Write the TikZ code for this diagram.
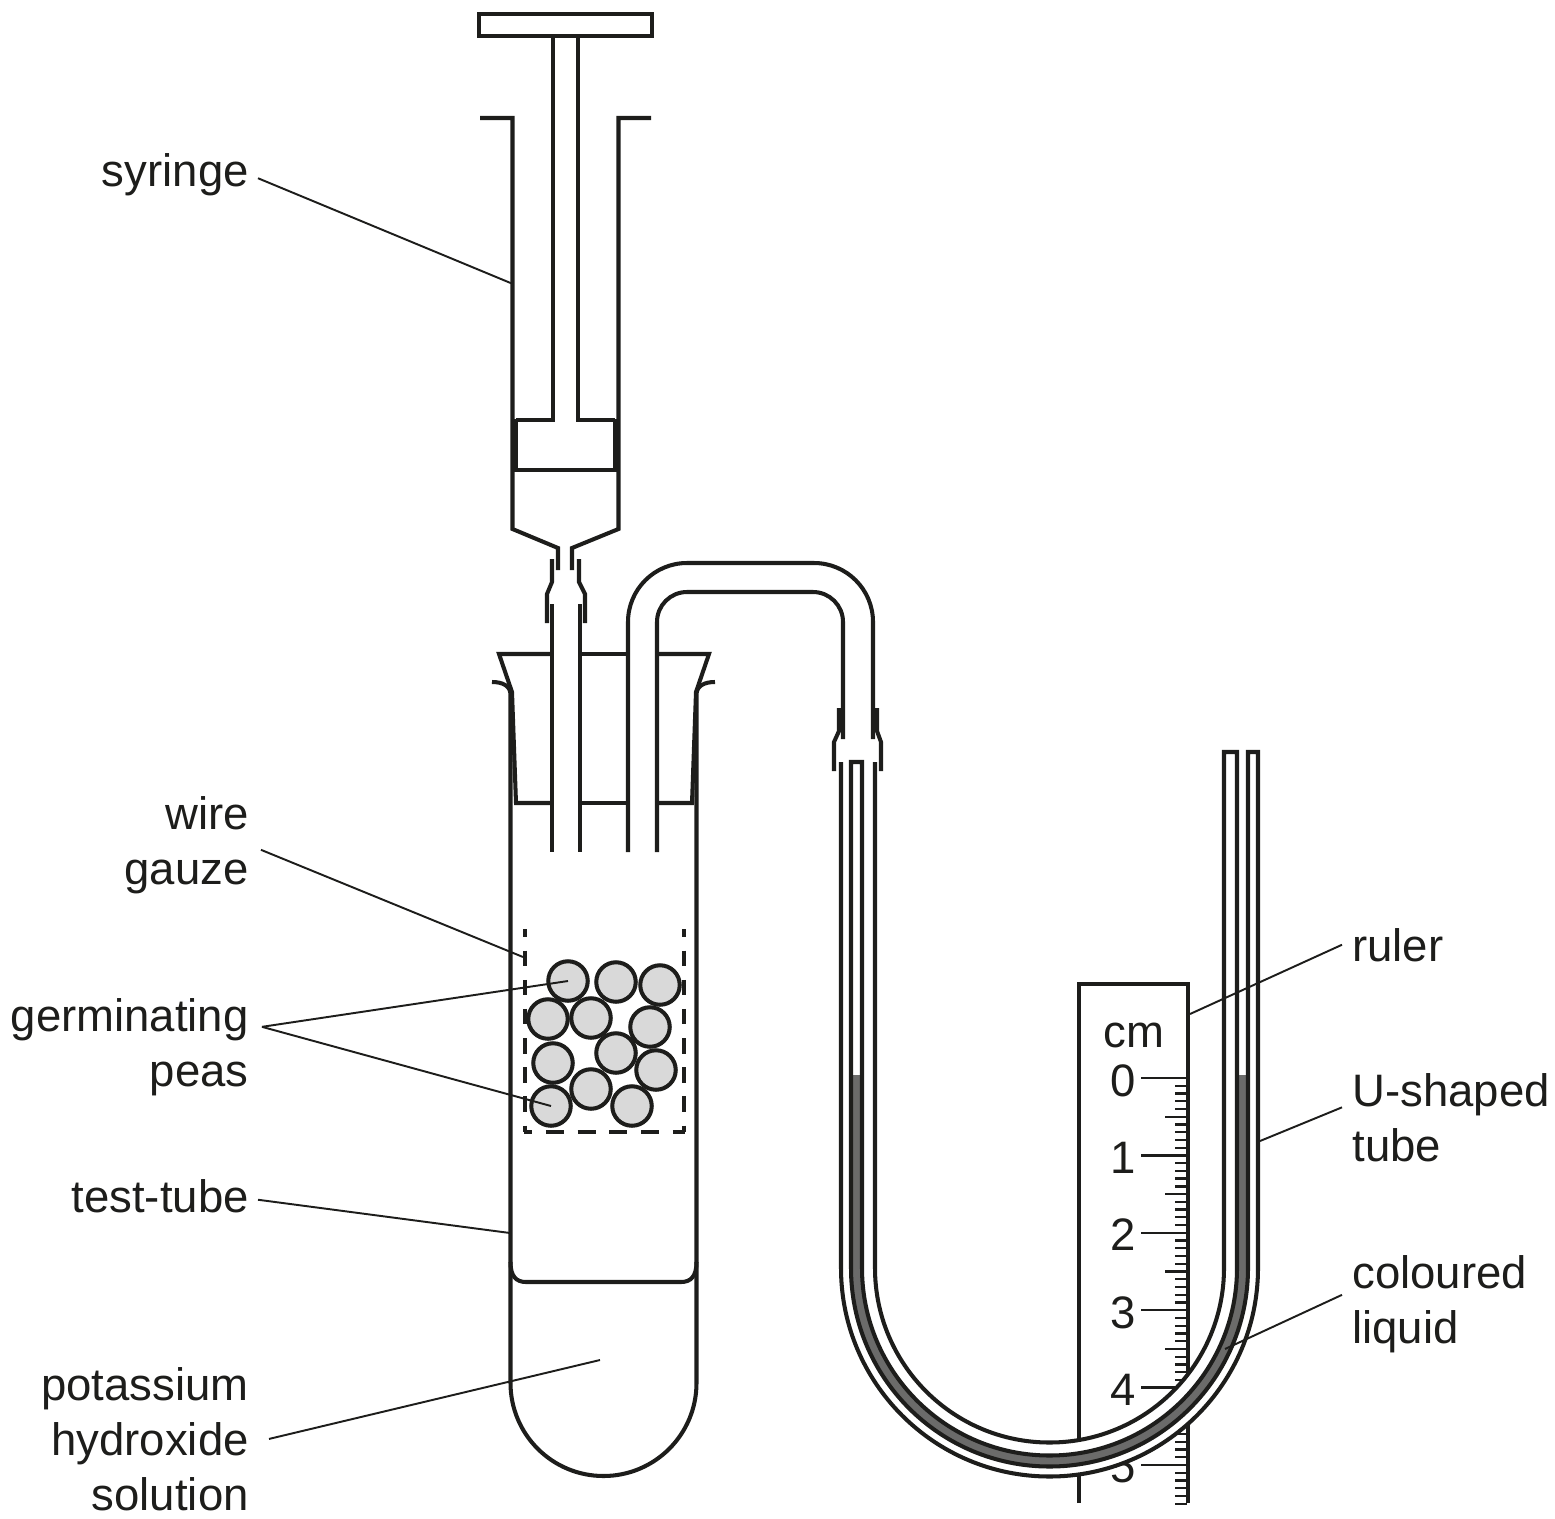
\documentclass[tikz,border=0pt]{standalone}
\usepackage{fontspec}
\setmainfont{Liberation Sans}
\usepackage{tikz}
\usetikzlibrary{calc}
\definecolor{ink}{HTML}{1D1D1B}
\definecolor{peagrey}{HTML}{D9D9D9}
\definecolor{liquidgrey}{HTML}{6B6B6A}

\begin{document}
\begin{tikzpicture}[
  x=0.02cm, y=-0.02cm,
  glass/.style={draw=ink, line width=2.3pt},
  leader/.style={draw=ink, line width=1.1pt},
  tick/.style={draw=ink, line width=1.3pt},
  gauzeside/.style={draw=ink, line width=2.3pt, dash pattern=on 8.8pt off 7.8pt, dash phase=4.3pt},
  gauzebase/.style={draw=ink, line width=2.3pt, dash pattern=on 10.2pt off 7.9pt, dash phase=5.7pt},
  pea/.style={circle, draw=ink, line width=2.3pt, fill=peagrey, minimum size=0.79cm, inner sep=0pt},
  lefttext/.style={anchor=base east, align=right, inner sep=0pt, text=ink, font=\fontsize{25.9}{31.2}\selectfont},
  righttext/.style={anchor=base west, align=left, inner sep=0pt, text=ink, font=\fontsize{25.9}{31.2}\selectfont},
  scaletext/.style={anchor=base, inner sep=0pt, text=ink, font=\fontsize{25.9}{31.2}\selectfont}
]
\useasboundingbox (0,0) rectangle (1555,1518);

% Syringe
\draw[glass] (479,14) rectangle (652,36);
\draw[glass] (553,36) -- (553,420) -- (516,420);
\draw[glass] (578,36) -- (578,420) -- (615,420);
\draw[glass] (480,118) -- (512.5,118) -- (512.5,529) -- (558,548) -- (558,570);
\draw[glass] (651,118) -- (618.5,118) -- (618.5,529) -- (572,548) -- (572,570);
\draw[glass] (516,419) -- (516,471);
\draw[glass] (615,419) -- (615,471);
\draw[glass] (514,470) -- (617,470);

% Rubber joint under the syringe
\draw[glass] (552,559) -- (552,582) -- (547,594) -- (547,623);
\draw[glass] (579,559) -- (579,582) -- (585,594) -- (585,623);

% Test-tube
\draw[glass] (492,682) .. controls (503,682) and (510,686) .. (510.5,694) -- (510.5,1383)
  arc[start angle=180, end angle=0, radius=93] -- (696.5,694)
  .. controls (697,686) and (704,682) .. (715,682);
\draw[glass] (510.5,1262) .. controls (510.5,1276) and (516,1282) .. (526,1282) -- (681,1282)
  .. controls (691,1282) and (696.5,1276) .. (696.5,1262);

% Bung
\draw[glass] (552,654) -- (499,654) -- (512,692) -- (516,803) -- (552,803);
\draw[glass] (580,654) -- (628,654);
\draw[glass] (580,803) -- (628,803);
\draw[glass] (657,654) -- (709,654) -- (696,692) -- (692,803) -- (657,803);

% Glass tubes through the bung
\draw[glass] (552,604) -- (552,852);
\draw[glass] (580,604) -- (580,852);
\draw[glass] (628,852) -- (628,622) arc[start angle=180, end angle=270, radius=59] -- (814,563)
  arc[start angle=270, end angle=360, radius=59] -- (873,739);
\draw[glass] (657,852) -- (657,622) arc[start angle=180, end angle=270, radius=30] -- (813,592)
  arc[start angle=270, end angle=360, radius=30] -- (843,739);

% Rubber joint above the U-shaped tube
\draw[glass] (839,708) -- (839,731) -- (834,742) -- (834,771);
\draw[glass] (877,708) -- (877,731) -- (881,742) -- (881,771);

% Wire gauze and peas
\draw[gauzeside] (525,929) -- (525,1132);
\draw[gauzeside] (684,929) -- (684,1132);
\draw[gauzebase] (524,1132) -- (685,1132);
\foreach \n/\x/\y in {a/568/981, b/616/982, c/660/985, d/548/1019, e/591/1018, f/650/1027,
                      g/553/1063, h/616/1053, i/656/1070, j/551/1106, k/591/1089, l/632/1106}
  \node[pea] (pea\n) at (\x,\y) {};

% Ruler
\draw[glass] (1079,1503) -- (1079,984) -- (1188,984) -- (1188,1503);
\node[scaletext] (cm) at (1134,1047) {cm};
\foreach \v/\y in {0/1096, 1/1173, 2/1250, 3/1328, 4/1405, 5/1482}
  \node[scaletext] (num\v) at (1123,\y) {\v};
\foreach \i in {0,...,55} {
  \pgfmathsetmacro{\ypos}{1078+\i*7.74}
  \draw[tick] (1175,\ypos) -- (1187,\ypos);
}
\foreach \i in {0,...,5}
  \draw[tick] ({1141},{1078+\i*77.4}) -- (1187,{1078+\i*77.4});
\foreach \i in {0,...,4}
  \draw[tick] ({1165},{1116.7+\i*77.4}) -- (1187,{1116.7+\i*77.4});

% U-shaped tube
\fill[white] (875,1268) arc[start angle=180, end angle=0, radius=174.5] -- (1258,1268)
  arc[start angle=0, end angle=180, radius=208.5] -- cycle;
\fill[liquidgrey] (851.5,1075) -- (851.5,1268) arc[start angle=180, end angle=0, radius=198] -- (1247.5,1075)
  -- (1236.5,1075) -- (1236.5,1268) arc[start angle=0, end angle=180, radius=187] -- (862.5,1075) -- cycle;
\draw[glass] (841,762) -- (841,1268) arc[start angle=180, end angle=0, radius=208.5] -- (1258,752) -- (1248,752) -- (1248,1268)
  arc[start angle=0, end angle=180, radius=198.5] -- (851,762) -- (862,762) -- (862,1268)
  arc[start angle=180, end angle=0, radius=187.5] -- (1237,752) -- (1224,752) -- (1224,1268)
  arc[start angle=0, end angle=180, radius=174.5] -- (875,762);

% Labels on the left
\node[lefttext] (syringe) at (249,186) {syringe};
\node[lefttext] (gauze) at (249,884) {wire\\gauze};
\node[lefttext] (peas) at (249,1086) {germinating\\peas};
\node[lefttext] (testtube) at (249,1212) {test-tube};
\node[lefttext] (potash) at (249,1510) {potassium\\hydroxide\\solution};

% Labels on the right
\node[righttext] (ruler) at (1352,961) {ruler};
\node[righttext] (utube) at (1352,1161) {U-shaped\\tube};
\node[righttext] (liquid) at (1352,1343) {coloured\\liquid};

% Leader lines
\coordinate (syringeEnd) at (513,284);
\coordinate (gauzeEnd) at (523,957);
\coordinate (testtubeEnd) at (510,1233);
\coordinate (potashEnd) at (600,1360);
\coordinate (rulerEnd) at (1190,1014);
\coordinate (utubeEnd) at (1260,1141);
\coordinate (liquidEnd) at (1225,1349);
\draw[leader] ($(syringe.east)+(9,4)$) -- (syringeEnd);
\draw[leader] ($(gauze.east)+(12,5)$) -- (gauzeEnd);
\draw[leader] ($(peas.east)+(13,-20)$) -- (peaa.center);
\draw[leader] ($(peas.east)+(13,-20)$) -- (peaj.center);
\draw[leader] ($(testtube.east)+(9,4)$) -- (testtubeEnd);
\draw[leader] ($(potash.east)+(20,0)$) -- (potashEnd);
\draw[leader] ($(ruler.west)+(-10,0)$) -- (rulerEnd);
\draw[leader] ($(utube.west)+(-10,-10)$) -- (utubeEnd);
\draw[leader] ($(liquid.west)+(-10,-9)$) -- (liquidEnd);

\end{tikzpicture}
\end{document}
